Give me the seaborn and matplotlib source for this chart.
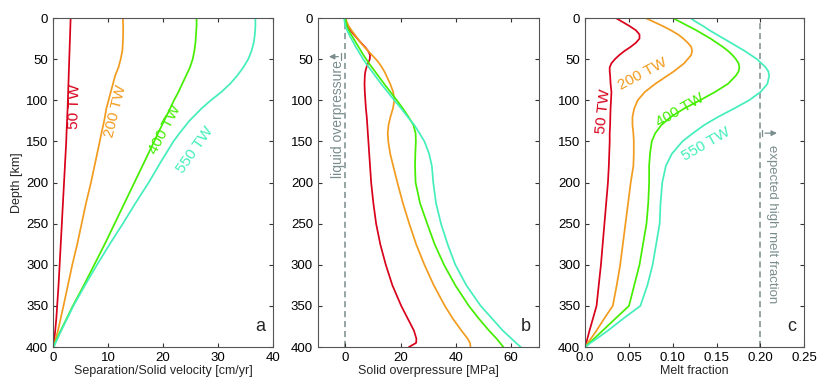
import numpy as np
import pandas as pd
import matplotlib
matplotlib.use("Agg")
import matplotlib.pyplot as plt
import seaborn as sns

sns.set_style("ticks")
plt.rcParams['font.family'] = ['Liberation Sans', 'DejaVu Sans']

series = ["50 TW", "200 TW", "400 TW", "550 TW"]
colors = ["#d8001a", "#f29c1f", "#44ee00", "#44eebb"]

# Panel a depth grid [km]
depth_a = [0, 10, 20, 30, 40, 50, 60, 70, 80, 90, 100, 110, 125, 140, 150, 175,
           200, 225, 250, 275, 300, 325, 350, 365, 380, 390, 400]
# Panel a: separation/solid velocity [cm/yr]
vel_50 = [3.2, 3.15, 3.1, 3.05, 3.0, 2.95, 2.9, 2.85, 2.8, 2.75, 2.7, 2.65, 2.55, 2.45, 2.4, 2.2,
          2.0, 1.8, 1.6, 1.4, 1.2, 1.0, 0.75, 0.6, 0.4, 0.25, 0.05]
vel_200 = [12.7, 12.75, 12.75, 12.7, 12.6, 12.3, 11.9, 11.3, 10.9, 10.5, 10.1, 9.7, 9.3, 8.8, 8.5, 7.7,
           6.9, 6.0, 5.2, 4.4, 3.5, 2.7, 1.9, 1.4, 0.9, 0.5, 0.1]
vel_400 = [26.1, 26.1, 26.0, 25.9, 25.7, 25.4, 24.9, 24.2, 23.5, 22.8, 22.0, 21.3, 20.2, 19.1, 18.4, 16.6,
           14.8, 13.0, 11.2, 9.4, 7.5, 5.6, 3.6, 2.5, 1.4, 0.7, 0.1]
vel_550 = [36.8, 36.8, 36.7, 36.5, 36.1, 35.5, 34.6, 33.5, 32.2, 30.6, 28.7, 27.0, 24.8, 23.0, 21.9, 19.6,
           17.4, 15.0, 12.7, 10.3, 8.0, 5.8, 3.7, 2.6, 1.5, 0.8, 0.1]

# Panels b and c depth grid [km]
depth_bc = [0, 5, 10, 15, 20, 25, 30, 35, 40, 45, 50, 55, 60, 65, 70, 80, 90, 100, 110, 120,
            130, 140, 150, 165, 180, 200, 225, 250, 275, 300, 325, 350, 365, 380, 390, 395, 400]

# Panel b: solid overpressure [MPa]
op_50 = [0.0, 0.2, 0.8, 1.8, 3.0, 4.3, 5.6, 7.0, 8.2, 8.9, 8.8, 8.2, 7.6, 7.2, 7.0, 6.9, 7.0, 7.2, 7.4, 7.7,
         7.9, 8.1, 8.3, 8.6, 8.9, 9.3, 10.1, 11.1, 12.6, 14.6, 17.0, 20.2, 22.5, 24.8, 25.7, 25.6, 23.0]
op_200 = [0.0, 0.5, 1.2, 2.2, 3.3, 4.4, 5.5, 6.8, 8.2, 9.6, 11.0, 12.2, 13.2, 14.1, 14.8, 16.2, 17.3, 17.7, 17.2, 16.3,
          15.6, 15.3, 15.5, 16.2, 17.3, 18.8, 20.8, 23.1, 25.6, 28.6, 32.0, 36.0, 38.8, 42.0, 44.3, 45.1, 45.3]
op_400 = [0.0, 0.2, 0.5, 1.2, 2.0, 2.9, 3.8, 4.7, 5.6, 6.5, 7.5, 8.5, 9.6, 10.7, 11.8, 14.0, 16.3, 18.6, 20.8, 22.8,
          24.6, 25.4, 25.5, 25.3, 25.2, 25.4, 27.0, 29.6, 32.3, 35.7, 39.8, 44.7, 48.2, 52.0, 54.8, 56.0, 57.2]
op_550 = [-0.5, -0.3, 0.0, 0.6, 1.3, 2.1, 2.9, 3.7, 4.6, 5.5, 6.4, 7.4, 8.5, 9.6, 10.7, 12.9, 15.3, 17.7, 20.2, 22.5,
          24.9, 26.8, 28.6, 30.3, 31.3, 31.8, 32.8, 34.6, 37.0, 39.8, 43.8, 49.0, 53.0, 57.0, 60.2, 61.8, 63.5]

# Panel c: melt fraction
mf_50 = [0.035, 0.043, 0.051, 0.058, 0.062, 0.062, 0.058, 0.052, 0.045, 0.039, 0.034, 0.030, 0.028, 0.028, 0.0285,
         0.029, 0.030, 0.0295, 0.029, 0.0287, 0.0285, 0.028, 0.028, 0.0275, 0.027, 0.026, 0.024, 0.022, 0.020,
         0.018, 0.0155, 0.013, 0.009, 0.005, 0.0025, 0.0012, 0.0]
mf_200 = [0.069, 0.079, 0.089, 0.098, 0.106, 0.112, 0.117, 0.121, 0.122, 0.121, 0.117, 0.113, 0.107, 0.101, 0.094,
          0.080, 0.068, 0.060, 0.056, 0.054, 0.054, 0.055, 0.0555, 0.0555, 0.055, 0.052, 0.049, 0.046, 0.043,
          0.040, 0.036, 0.0315, 0.022, 0.013, 0.0065, 0.003, 0.0]
mf_400 = [0.100, 0.109, 0.118, 0.127, 0.135, 0.143, 0.150, 0.157, 0.163, 0.168, 0.172, 0.175, 0.176, 0.175, 0.172,
          0.163, 0.148, 0.131, 0.113, 0.098, 0.087, 0.080, 0.076, 0.074, 0.073, 0.073, 0.072, 0.070, 0.066,
          0.062, 0.056, 0.050, 0.035, 0.020, 0.010, 0.005, 0.0]
mf_550 = [0.120, 0.127, 0.135, 0.142, 0.150, 0.158, 0.166, 0.174, 0.182, 0.189, 0.196, 0.201, 0.206, 0.209, 0.210,
          0.208, 0.200, 0.187, 0.170, 0.152, 0.136, 0.123, 0.111, 0.099, 0.092, 0.088, 0.086, 0.085, 0.081,
          0.077, 0.071, 0.063, 0.044, 0.026, 0.013, 0.006, 0.0]


def make_df(depth, vals):
    rows = []
    for name, v in zip(series, vals):
        for d, x in zip(depth, v):
            rows.append({"series": name, "depth": d, "value": x})
    return pd.DataFrame(rows)


df_a = make_df(depth_a, [vel_50, vel_200, vel_400, vel_550])
df_b = make_df(depth_bc, [op_50, op_200, op_400, op_550])
df_c = make_df(depth_bc, [mf_50, mf_200, mf_400, mf_550])

fig = plt.figure(figsize=(8.3, 3.91), dpi=100)
bottom, height = 0.1125, 0.8414
ax_a = fig.add_axes([0.0639, bottom, 0.265, height])
ax_b = fig.add_axes([0.383, bottom, 0.266, height])
ax_c = fig.add_axes([0.705, bottom, 0.264, height])

pal = dict(zip(series, colors))
for ax, df in [(ax_a, df_a), (ax_b, df_b), (ax_c, df_c)]:
    sns.lineplot(data=df, x="value", y="depth", hue="series", palette=pal,
                 sort=False, estimator=None, orient="y", lw=1.25, legend=False, ax=ax)
    ax.set_ylim(400, 0)
    ax.set_yticks([0, 50, 100, 150, 200, 250, 300, 350, 400])
    ax.tick_params(direction="in", top=True, right=True, labelsize=9.5,
                   length=3, width=0.8, color="#333333", labelcolor="black")
    for sp in ax.spines.values():
        sp.set_visible(True)
        sp.set_color("#555555")
        sp.set_linewidth(0.8)
    ax.set_ylabel("")

grey = "#7a8c8c"

# Panel a
ax_a.set_xlim(0, 40)
ax_a.set_xticks([0, 10, 20, 30, 40])
ax_a.set_xlabel("Separation/Solid velocity [cm/yr]", fontsize=9, labelpad=1)
ax_a.set_ylabel("Depth [km]", fontsize=9, labelpad=2)
lab_a = [(3.9, 108, 88), (11.4, 113, 76), (20.3, 136, 62), (25.8, 160, 55)]
for (x, y, r), s, c in zip(lab_a, series, colors):
    ax_a.text(x, y, s, color=c, rotation=r, fontsize=11, ha="center", va="center")
ax_a.text(0.965, 0.035, "a", transform=ax_a.transAxes, fontsize=13, ha="right", va="bottom")

# Panel b
ax_b.set_xlim(-10, 70)
ax_b.set_xticks([0, 20, 40, 60])
ax_b.set_xlabel("Solid overpressure [MPa]", fontsize=9, labelpad=1)
ax_b.axvline(0, color=grey, ls=(0, (4, 2.5)), lw=1.1, zorder=0)
ax_b.annotate("", xy=(-7, 47), xytext=(-1.6, 47),
              arrowprops=dict(arrowstyle="-|>", color=grey, lw=0.9, mutation_scale=8))
ax_b.plot([-1.6, -1.6], [43, 51], color=grey, lw=0.9)
ax_b.text(-2.8, 123, "liquid overpressure", color=grey, rotation=90, fontsize=10,
          ha="center", va="center")
ax_b.text(0.965, 0.035, "b", transform=ax_b.transAxes, fontsize=13, ha="right", va="bottom")

# Panel c
ax_c.set_xlim(0, 0.25)
ax_c.set_xticks([0, 0.05, 0.10, 0.15, 0.20, 0.25])
ax_c.set_xticklabels(["0.0", "0.05", "0.10", "0.15", "0.20", "0.25"])
ax_c.set_xlabel("Melt fraction", fontsize=9, labelpad=1)
ax_c.axvline(0.2, color=grey, ls=(0, (4, 2.5)), lw=1.1, zorder=0)
ax_c.annotate("", xy=(0.222, 140), xytext=(0.202, 140),
              arrowprops=dict(arrowstyle="-|>", color=grey, lw=0.9, mutation_scale=8))
ax_c.plot([0.202, 0.202], [136, 144], color=grey, lw=0.9)
ax_c.text(0.2135, 250, "expected high melt fraction", color=grey, rotation=-90, fontsize=9.5,
          ha="center", va="center")
lab_c = [(0.021, 113, 84), (0.066, 68, 28), (0.108, 112, 30), (0.1375, 154, 30)]
for (x, y, r), s, c in zip(lab_c, series, colors):
    ax_c.text(x, y, s, color=c, rotation=r, fontsize=11, ha="center", va="center")
ax_c.text(0.965, 0.035, "c", transform=ax_c.transAxes, fontsize=13, ha="right", va="bottom")

fig.savefig("out.png", dpi=100)
